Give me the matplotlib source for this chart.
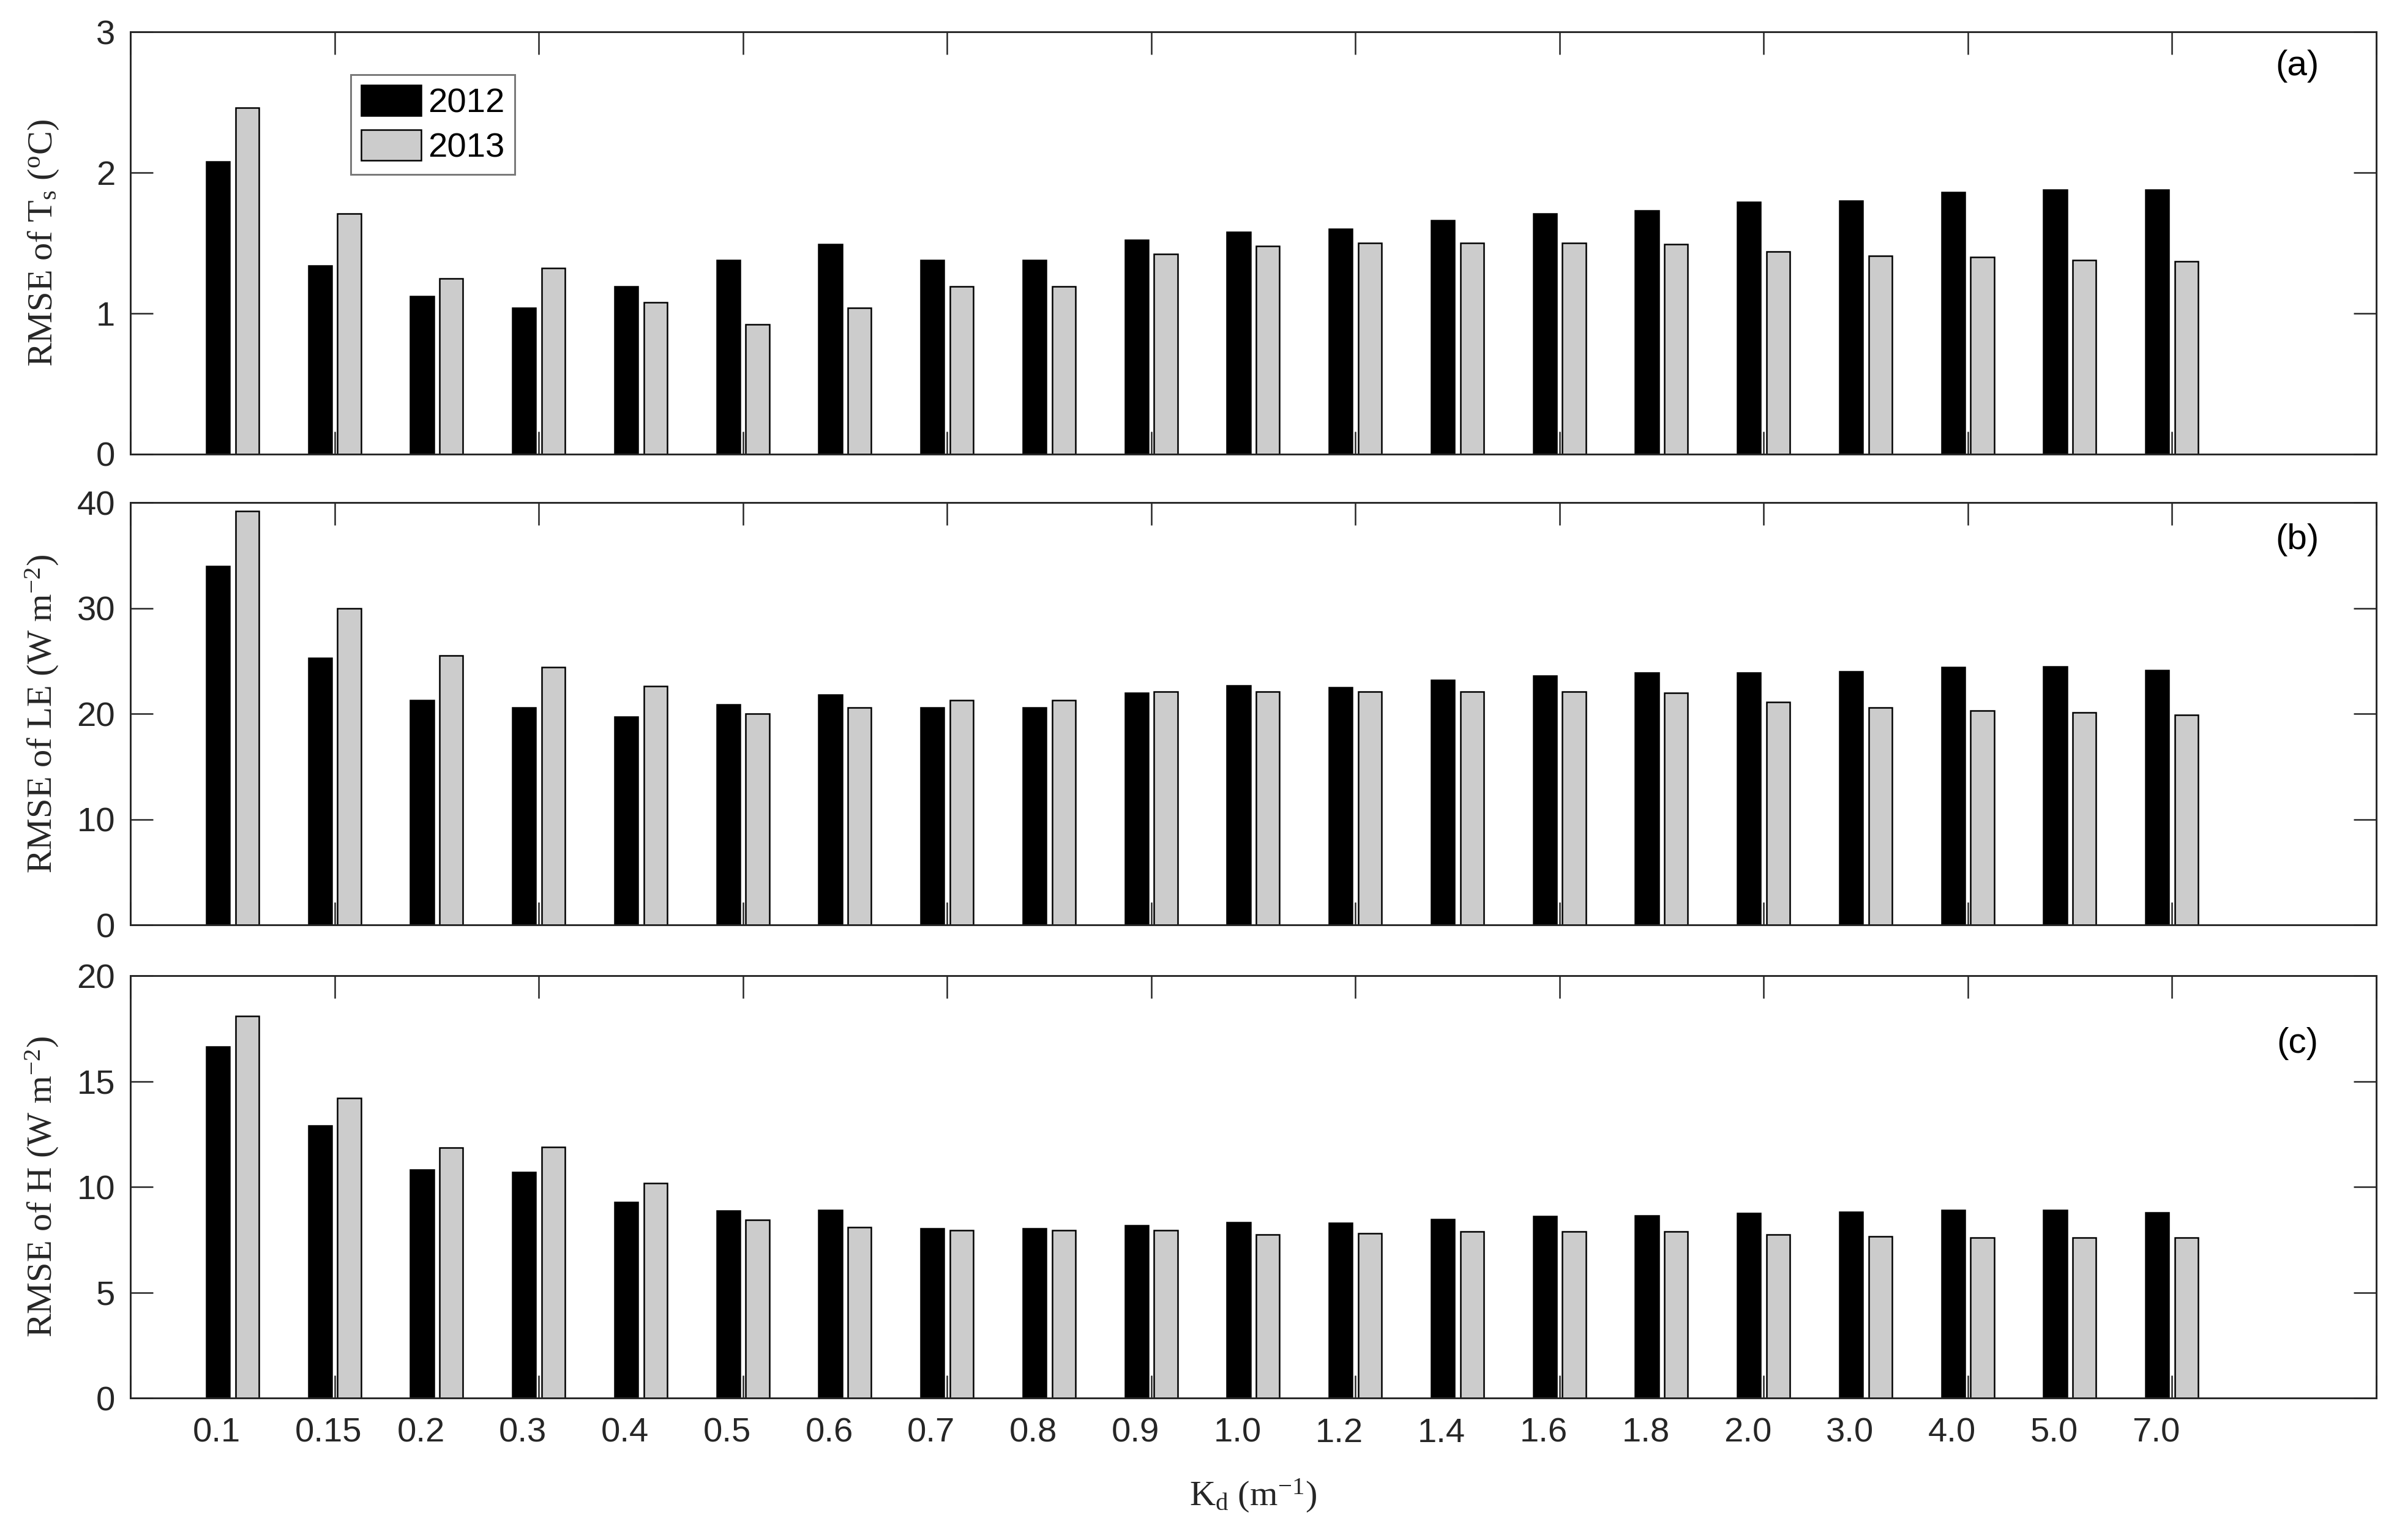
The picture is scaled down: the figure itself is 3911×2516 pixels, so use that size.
import numpy as np
import matplotlib
matplotlib.use("Agg")
import matplotlib.pyplot as plt

# Kd categories (m^-1)
kd_labels = ["0.1", "0.15", "0.2", "0.3", "0.4", "0.5", "0.6", "0.7", "0.8", "0.9",
             "1.0", "1.2", "1.4", "1.6", "1.8", "2.0", "3.0", "4.0", "5.0", "7.0"]

# RMSE of Ts (oC)
ts_2012 = [2.08, 1.34, 1.12, 1.04, 1.19, 1.38, 1.49, 1.38, 1.38, 1.52,
           1.58, 1.60, 1.66, 1.71, 1.73, 1.79, 1.80, 1.86, 1.88, 1.88]
ts_2013 = [2.46, 1.71, 1.25, 1.32, 1.08, 0.92, 1.04, 1.19, 1.19, 1.42,
           1.48, 1.50, 1.50, 1.50, 1.49, 1.44, 1.41, 1.40, 1.38, 1.37]

# RMSE of LE (W m-2)
le_2012 = [34.0, 25.3, 21.3, 20.6, 19.7, 20.9, 21.8, 20.6, 20.6, 22.0,
           22.7, 22.5, 23.2, 23.6, 23.9, 23.9, 24.0, 24.4, 24.5, 24.1]
le_2013 = [39.2, 30.0, 25.5, 24.4, 22.6, 20.0, 20.6, 21.3, 21.3, 22.1,
           22.1, 22.1, 22.1, 22.1, 22.0, 21.1, 20.6, 20.3, 20.1, 19.9]

# RMSE of H (W m-2)
h_2012 = [16.65, 12.9, 10.8, 10.7, 9.28, 8.88, 8.89, 8.04, 8.04, 8.19,
          8.33, 8.28, 8.46, 8.62, 8.63, 8.76, 8.80, 8.90, 8.90, 8.78]
h_2013 = [18.08, 14.2, 11.85, 11.9, 10.18, 8.45, 8.09, 7.93, 7.93, 7.93,
          7.75, 7.81, 7.90, 7.90, 7.90, 7.75, 7.66, 7.59, 7.59, 7.59]

plt.rcParams['font.family'] = ['Liberation Sans', 'DejaVu Sans']
plt.rcParams['mathtext.fontset'] = 'custom'
plt.rcParams['mathtext.rm'] = 'Liberation Serif'
plt.rcParams['mathtext.it'] = 'Liberation Serif:italic'

axcol = '#262626'
fs = 13.5
serif = 'Liberation Serif'

fig = plt.figure(figsize=(3911 / 300, 2516 / 300), dpi=300)
left, width, height = 0.0545, 0.938, 0.2742
bottoms = [0.7051, 0.3994, 0.0922]

panels = [
    (ts_2012, ts_2013, 3, [0, 1, 2, 3], "RMSE of T$_\\mathrm{s}$ ($^\\mathrm{o}$C)", "(a)", 0.919),
    (le_2012, le_2013, 40, [0, 10, 20, 30, 40], "RMSE of LE (W m$^{-2}$)", "(b)", 0.912),
    (h_2012, h_2013, 20, [0, 5, 10, 15, 20], "RMSE of H (W m$^{-2}$)", "(c)", 0.84),
]

x = np.arange(1, len(kd_labels) + 1)
axes = []
for (v12, v13, ymax, yt, ylab, tag, tag_y), b in zip(panels, bottoms):
    ax = fig.add_axes([left, b, width, height])
    ax.bar(x - 0.143, v12, width=0.229, color='black', edgecolor='black', linewidth=0.6, label='2012')
    ax.bar(x + 0.143, v13, width=0.229, color='#cccccc', edgecolor='black', linewidth=0.6, label='2013')
    ax.set_xlim(0, 22)
    ax.set_ylim(0, ymax)
    ax.set_yticks(yt)
    ax.set_xticks(np.arange(0, 23, 2))
    ax.set_xticklabels([])
    ax.set_axisbelow(True)
    ax.tick_params(direction='in', length=8.9, width=0.6, color=axcol,
                   labelsize=fs, labelcolor=axcol, pad=6,
                   top=True, right=True)
    for s in ax.spines.values():
        s.set_color(axcol)
        s.set_linewidth(0.7)
    ax.set_ylabel(ylab, fontsize=14, family=serif, color=axcol)
    ax.yaxis.set_label_coords(-0.031, 0.5)
    ax.text(0.965, tag_y, tag, transform=ax.transAxes, fontsize=14,
            ha='center', va='center', color='black')
    axes.append(ax)

leg = axes[0].legend(loc='upper left', bbox_to_anchor=(0.098, 0.899), fontsize=fs,
                     frameon=True, fancybox=False, edgecolor='#555555',
                     handlelength=1.75, handleheight=1.0, handletextpad=0.2,
                     labelspacing=0.3, borderpad=0.3, borderaxespad=0)
leg.get_frame().set_linewidth(0.7)

ax3 = axes[-1]
for xi, lab in zip(x, kd_labels):
    ax3.text(xi - 0.39, -0.084, lab, transform=ax3.get_xaxis_transform(),
             ha='left', va='center', fontsize=fs, color=axcol)

fig.text(left + width / 2, 0.0286, "K$_\\mathrm{d}$ (m$^{-1}$)", ha='center', va='center',
         fontsize=14, family=serif, color=axcol)

fig.savefig("out.png", dpi=300)
